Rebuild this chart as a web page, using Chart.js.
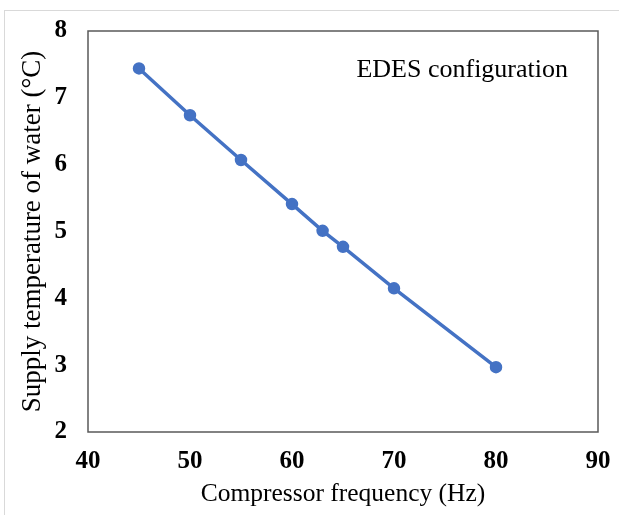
<!DOCTYPE html>
<html>
<head>
<meta charset="utf-8">
<script src="https://cdn.jsdelivr.net/npm/chart.js@4/dist/chart.umd.min.js"></script>
<style>
  html, body { margin: 0; padding: 0; background: #fff; overflow: hidden; }
  #wrap { position: relative; width: 619px; height: 515px; overflow: hidden; }
  #frame { position: absolute; left: 4px; top: 10px; width: 615px; height: 505px; border-left: 1px solid #d9d9d9; border-top: 1px solid #d9d9d9; box-sizing: border-box; pointer-events: none; }
  canvas { position: absolute; left: 0; top: 0; }
</style>
</head>
<body>
<div id="wrap">
  <canvas id="c" width="619" height="515"></canvas>
  <div id="frame"></div>
</div>
<script>
const frequencies = [45, 50, 55, 60, 63, 65, 70, 80];
const supplyTemps = [7.44, 6.74, 6.07, 5.41, 5.01, 4.77, 4.15, 2.97];
const xTicks = [40, 50, 60, 70, 80, 90];
const yTicks = [2, 3, 4, 5, 6, 7, 8];
const seriesLabel = 'EDES configuration';
const xTitle = 'Compressor frequency (Hz)';
const yTitle = 'Supply temperature of water (°C)';

const FONT = '"Liberation Serif", "Times New Roman", serif';

const frameBox = {
  id: 'frameBox',
  afterDraw(chart) {
    const {ctx, chartArea: a} = chart;
    ctx.save();
    ctx.strokeStyle = '#595959';
    ctx.lineWidth = 1.5;
    ctx.strokeRect(a.left, a.top, a.right - a.left, a.bottom - a.top);
    ctx.fillStyle = '#000';
    ctx.font = '26px ' + FONT;
    ctx.textAlign = 'right';
    ctx.textBaseline = 'middle';
    ctx.fillText(seriesLabel, a.right - 30, a.top + 39);
    ctx.restore();
  }
};

new Chart(document.getElementById('c'), {
  type: 'line',
  data: {
    datasets: [{
      label: seriesLabel,
      data: frequencies.map((f, i) => ({x: f, y: supplyTemps[i]})),
      borderColor: '#4472C4',
      backgroundColor: '#4472C4',
      borderWidth: 3.5,
      pointRadius: 4.5,
      pointHoverRadius: 4.5,
      tension: 0
    }]
  },
  options: {
    responsive: false,
    animation: false,
    events: [],
    layout: { padding: { top: 31, right: 21, left: 0, bottom: 0 } },
    plugins: { legend: { display: false }, tooltip: { enabled: false } },
    scales: {
      x: {
        type: 'linear',
        min: 40, max: 90,
        afterBuildTicks(s) { s.ticks = xTicks.map(v => ({value: v})); },
        afterFit(s) { s.height = 83; s.paddingLeft = 0; s.paddingRight = 0; },
        grid: { display: false, drawTicks: false },
        border: { display: false },
        ticks: { padding: 15, color: '#000', font: { family: FONT, size: 25, weight: 'bold' } },
        title: { display: true, text: xTitle, color: '#000', padding: { top: 0, bottom: 5 }, font: { family: FONT, size: 25.5 } }
      },
      y: {
        type: 'linear',
        min: 2, max: 8,
        afterBuildTicks(s) { s.ticks = yTicks.map(v => ({value: v})); },
        afterFit(s) { s.width = 88; s.paddingTop = 0; s.paddingBottom = 0; },
        grid: { display: false, drawTicks: false },
        border: { display: false },
        ticks: { padding: 21, color: '#000', font: { family: FONT, size: 25, weight: 'bold' } },
        title: { display: true, text: yTitle, color: '#000', padding: { top: 17, bottom: 0 }, font: { family: FONT, size: 27 } }
      }
    }
  },
  plugins: [frameBox]
});
</script>
</body>
</html>
